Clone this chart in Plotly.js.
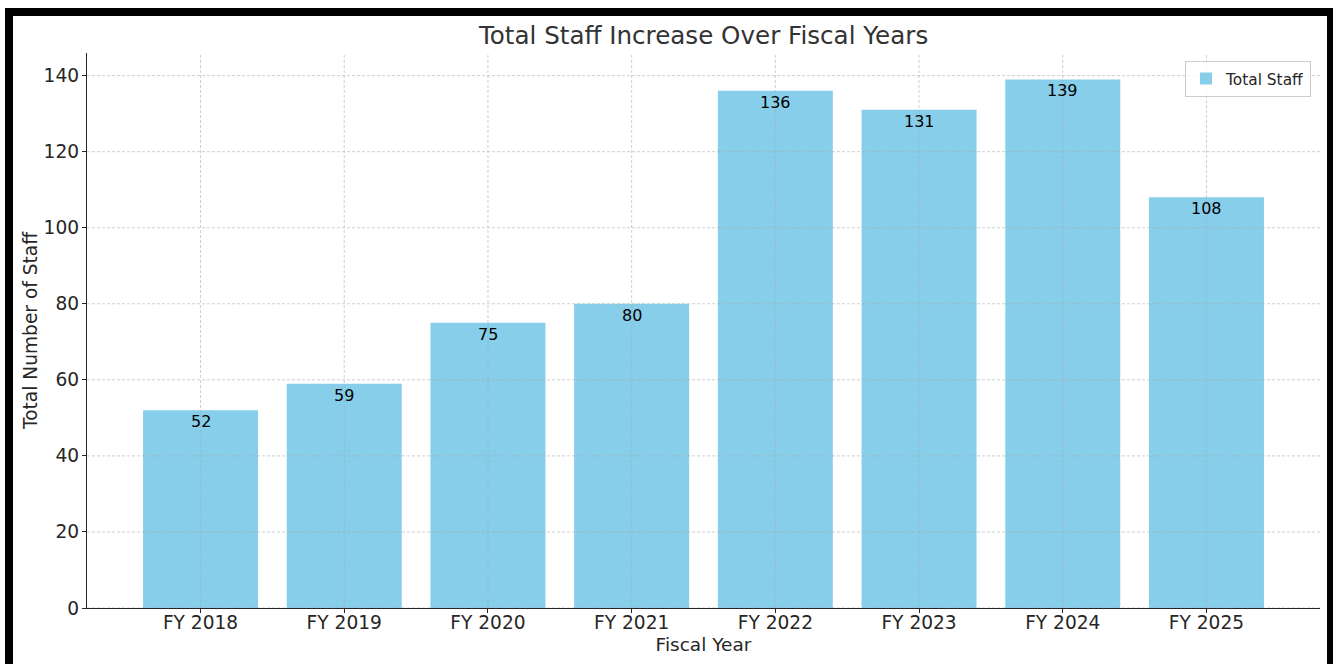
<!DOCTYPE html>
<html>
<head>
<meta charset="utf-8">
<script src="https://cdn.plot.ly/plotly-3.0.1.min.js"></script>
<style>
  html, body { margin: 0; padding: 0; background: #fff; }
  #wrap { position: relative; width: 1333px; height: 664px; overflow: hidden; }
  #chart { position: absolute; left: 0; top: 0; width: 1333px; height: 664px; }
  .frame { position: absolute; background: #000; }
</style>
</head>
<body>
<div id="wrap">
  <div id="chart"></div>
  <div class="frame" style="left:5px; top:8px; width:1328px; height:8px;"></div>
  <div class="frame" style="left:5px; top:8px; width:8px; height:656px;"></div>
  <div class="frame" style="left:1327px; top:8px; width:6px; height:656px;"></div>
</div>
<script>
const categories = ["FY 2018", "FY 2019", "FY 2020", "FY 2021", "FY 2022", "FY 2023", "FY 2024", "FY 2025"];
const totalStaff = [52, 59, 75, 80, 136, 131, 139, 108];
const yTicks = [0, 20, 40, 60, 80, 100, 120, 140];

const textColor = "#262626";
const gridStyle = { color: "rgba(170,170,170,0.75)", width: 0.75, dash: "3px,2px" };

const trace = {
  type: "bar",
  x: categories,
  y: totalStaff,
  name: "Total Staff",
  marker: { color: "#87CEEB", line: { width: 0 } },
  width: 0.8,
  hoverinfo: "x+y"
};

const annotations = categories.map((c, i) => ({
  x: c, y: totalStaff[i], xref: "x", yref: "y",
  text: String(totalStaff[i]), showarrow: false,
  yanchor: "top", xanchor: "center", yshift: 0,
  font: { family: "DejaVu Sans", size: 16, color: "#000" }
}));

const shapes = [];
yTicks.forEach(v => shapes.push({
  type: "line", xref: "paper", yref: "y", x0: 0, x1: 1, y0: v, y1: v,
  line: gridStyle, layer: "above"
}));
categories.forEach(c => shapes.push({
  type: "line", xref: "x", yref: "paper", x0: c, x1: c, y0: 0, y1: 1,
  line: gridStyle, layer: "above"
}));

const layout = {
  width: 1333, height: 664,
  margin: { l: 87, r: 13, t: 53, b: 56 },
  paper_bgcolor: "#fff", plot_bgcolor: "#fff",
  font: { family: "DejaVu Sans", color: textColor },
  title: {
    text: "Total Staff Increase Over Fiscal Years",
    font: { family: "DejaVu Sans", size: 24.6, color: "#333" },
    x: 0.5278, xanchor: "center", y: 1 - 35 / 664, yanchor: "middle"
  },
  xaxis: {
    type: "category",
    range: [-0.79, 7.79],
    showgrid: false, zeroline: false,
    showline: true, linecolor: "#262626", linewidth: 1.2,
    ticks: "outside", ticklen: 4, tickcolor: "#262626",
    ticklabelstandoff: -7,
    tickfont: { size: 18.6, color: textColor },
    title: { text: "Fiscal Year", font: { size: 18.5, color: textColor }, standoff: 6 }
  },
  yaxis: {
    range: [0, 145.95],
    tickvals: yTicks,
    showgrid: false, zeroline: false,
    showline: true, linecolor: "#262626", linewidth: 1.2,
    ticks: "outside", ticklen: 4, tickcolor: "#262626",
    ticklabelstandoff: -1,
    tickfont: { size: 18.6, color: textColor },
    title: { text: "Total Number of Staff", font: { size: 18.6, color: textColor }, standoff: 1 }
  },
  showlegend: true,
  legend: {
    x: 0.9927, xanchor: "right", y: 0.9856, yanchor: "top",
    bgcolor: "rgba(255,255,255,0.8)", bordercolor: "#cccccc", borderwidth: 1,
    font: { size: 15.4, color: textColor },
    itemwidth: 30, tracegroupgap: 0
  },
  bargap: 0.2,
  annotations: annotations,
  shapes: shapes
};

Plotly.newPlot("chart", [trace], layout, { displayModeBar: false, staticPlot: true });
</script>
</body>
</html>
